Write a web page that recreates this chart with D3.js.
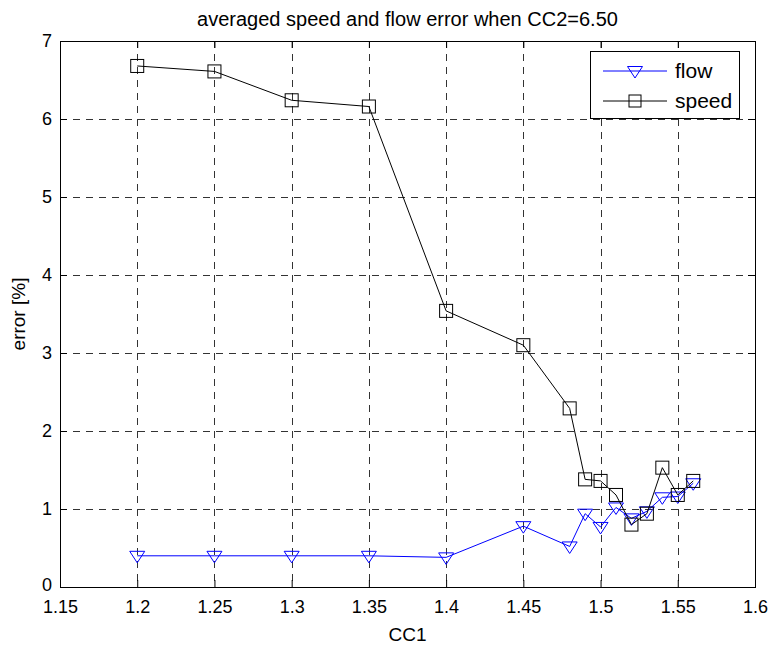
<!DOCTYPE html>
<html>

<head>
    <meta charset="UTF-8">
    <title>averaged speed and flow error</title>
    <script src="https://d3js.org/d3.v7.min.js"></script>
    <style>
        body { margin: 0; background: #fff; }
        text { font-family: Arial, "Liberation Sans", sans-serif; fill: #000; }
    </style>
</head>

<body>
    <script>
        // data
        const cc1 = [1.2, 1.25, 1.3, 1.35, 1.4, 1.45, 1.48, 1.49, 1.5, 1.51, 1.52, 1.53, 1.54, 1.55, 1.56];
        const flowErr = [0.40, 0.40, 0.40, 0.40, 0.38, 0.78, 0.52, 0.94, 0.77, 1.02, 0.88, 0.97, 1.15, 1.16, 1.33];
        const speedErr = [6.68, 6.61, 6.24, 6.16, 3.54, 3.10, 2.29, 1.38, 1.36, 1.18, 0.80, 0.94, 1.53, 1.18, 1.36];
        const xTicks = [1.15, 1.2, 1.25, 1.3, 1.35, 1.4, 1.45, 1.5, 1.55, 1.6];
        const yTicks = [0, 1, 2, 3, 4, 5, 6, 7];

        const width = 774, height = 649;
        const pLeft = 60, pRight = 755, pTop = 41, pBottom = 587;
        const fontSize = 18;

        const x = d3.scaleLinear().domain([1.15, 1.6]).range([pLeft, pRight]);
        const y = d3.scaleLinear().domain([0, 7]).range([pBottom, pTop]);

        const svg = d3.select("body").append("svg")
            .attr("width", width).attr("height", height);

        // grid
        const grid = svg.append("g")
            .attr("stroke", "#333").attr("stroke-width", 1)
            .attr("stroke-dasharray", "7,6").attr("shape-rendering", "crispEdges");
        grid.selectAll(".gx").data(xTicks.slice(1, -1)).enter().append("line")
            .attr("x1", d => Math.round(x(d)) + 0.5).attr("x2", d => Math.round(x(d)) + 0.5)
            .attr("y1", pTop).attr("y2", pBottom);
        grid.selectAll(".gy").data(yTicks.slice(1, -1)).enter().append("line")
            .attr("y1", d => Math.round(y(d)) + 0.5).attr("y2", d => Math.round(y(d)) + 0.5)
            .attr("x1", pLeft).attr("x2", pRight);

        // axes (MATLAB style ticks inside, on all four sides)
        const tickLen = 7;
        const xAxisB = d3.axisBottom(x).tickValues(xTicks).tickSizeInner(-tickLen).tickSizeOuter(0)
            .tickPadding(13).tickFormat(d3.format(""));
        const xAxisT = d3.axisTop(x).tickValues(xTicks).tickSizeInner(-tickLen).tickSizeOuter(0).tickFormat("");
        const yAxisL = d3.axisLeft(y).tickValues(yTicks).tickSizeInner(-tickLen).tickSizeOuter(0)
            .tickPadding(8).tickFormat(d3.format("d"));
        const yAxisR = d3.axisRight(y).tickValues(yTicks).tickSizeInner(-tickLen).tickSizeOuter(0).tickFormat("");

        const axes = [
            svg.append("g").attr("transform", `translate(0,${pBottom})`).call(xAxisB),
            svg.append("g").attr("transform", `translate(0,${pTop})`).call(xAxisT),
            svg.append("g").attr("transform", `translate(${pLeft},0)`).call(yAxisL),
            svg.append("g").attr("transform", `translate(${pRight},0)`).call(yAxisR)
        ];
        axes.forEach(g => {
            g.select(".domain").remove();
            g.selectAll("line").attr("stroke", "#000");
            g.selectAll("text").style("font-size", fontSize + "px");
            g.attr("font-family", null);
        });
        // lift the "0" a little so it clears "1.15" below it
        axes[2].selectAll(".tick text").filter(d => d === 0).attr("y", -2);

        svg.append("rect")
            .attr("x", pLeft + 0.5).attr("y", pTop + 0.5)
            .attr("width", pRight - pLeft).attr("height", pBottom - pTop)
            .attr("fill", "none").attr("stroke", "#000").attr("stroke-width", 1)
            .attr("shape-rendering", "crispEdges");

        // series
        const line = d3.line().x(d => x(d[0])).y(d => y(d[1]));
        const flowPts = cc1.map((c, i) => [c, flowErr[i]]);
        const speedPts = cc1.map((c, i) => [c, speedErr[i]]);

        const tri = "M-7.5,-4.5L7.5,-4.5L0,7Z";

        svg.append("path").datum(flowPts).attr("d", line)
            .attr("fill", "none").attr("stroke", "#0000ff").attr("stroke-width", 1);
        svg.append("g").selectAll("path").data(flowPts).enter().append("path")
            .attr("d", tri)
            .attr("transform", d => `translate(${x(d[0])},${y(d[1])})`)
            .attr("fill", "none").attr("stroke", "#0000ff").attr("stroke-width", 1);

        svg.append("path").datum(speedPts).attr("d", line)
            .attr("fill", "none").attr("stroke", "#000").attr("stroke-width", 1);
        svg.append("g").selectAll("rect").data(speedPts).enter().append("rect")
            .attr("x", d => x(d[0]) - 6.5).attr("y", d => y(d[1]) - 6.5)
            .attr("width", 13).attr("height", 13)
            .attr("fill", "none").attr("stroke", "#000").attr("stroke-width", 1);

        // labels
        svg.append("text")
            .attr("x", (pLeft + pRight) / 2).attr("y", 26)
            .attr("text-anchor", "middle").style("font-size", "20px")
            .text("averaged speed and flow error when CC2=6.50");
        svg.append("text")
            .attr("x", (pLeft + pRight) / 2).attr("y", 641)
            .attr("text-anchor", "middle").style("font-size", "19px")
            .text("CC1");
        svg.append("text")
            .attr("transform", `translate(25,${(pTop + pBottom) / 2}) rotate(-90)`)
            .attr("text-anchor", "middle").style("font-size", "19px")
            .text("error [%]");

        // legend
        const legend = svg.append("g");
        legend.append("rect")
            .attr("x", 590.5).attr("y", 51.5).attr("width", 149).attr("height", 67)
            .attr("fill", "#fff").attr("stroke", "#000").attr("stroke-width", 1);
        const legendItems = [
            { name: "flow", color: "#0000ff", marker: "tri" },
            { name: "speed", color: "#000", marker: "sq" }
        ];
        legendItems.forEach((d, i) => {
            const ly = 71 + i * 30;
            legend.append("line").attr("x1", 603).attr("x2", 667).attr("y1", ly).attr("y2", ly)
                .attr("stroke", d.color).attr("stroke-width", 1);
            if (d.marker === "tri") {
                legend.append("path").attr("d", tri).attr("transform", `translate(635,${ly})`)
                    .attr("fill", "none").attr("stroke", d.color);
            } else {
                legend.append("rect").attr("x", 629).attr("y", ly - 6).attr("width", 12).attr("height", 12)
                    .attr("fill", "none").attr("stroke", d.color);
            }
            legend.append("text").attr("x", 675).attr("y", ly).attr("dy", "0.35em")
                .style("font-size", "21px").text(d.name);
        });
    </script>
</body>

</html>
